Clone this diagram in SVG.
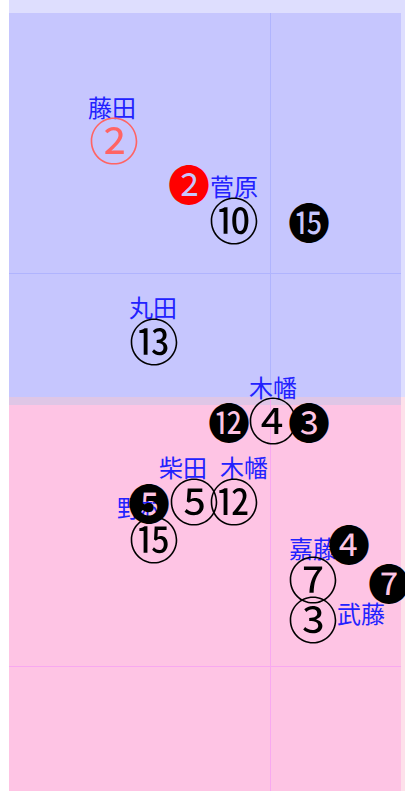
<svg xmlns="http://www.w3.org/2000/svg" width="405" height="791" viewBox="0 0 405 791">
<style>
.name{font-family:"Noto Sans CJK JP","Noto Sans CJK SC",sans-serif;font-size:24px;fill:#2222ff;text-anchor:middle}
.w{font-family:"Noto Sans CJK JP","Noto Sans CJK SC",serif;font-size:50px;fill:#000;text-anchor:middle;dominant-baseline:central}
.b{font-family:"Noto Sans CJK JP","Noto Sans CJK SC",serif;font-size:42px;fill:#000;text-anchor:middle;dominant-baseline:central}
</style>
<rect x="0" y="0" width="405" height="791" fill="#ffffff"/>
<rect x="9" y="0" width="396" height="13" fill="#dedefe"/>
<rect x="401" y="13" width="4" height="384" fill="#dedefe"/>
<rect x="401" y="397" width="4" height="394" fill="#fde0ea"/>
<rect x="9" y="13" width="392" height="384" fill="#c6c6fe"/>
<rect x="9" y="397" width="392" height="8" fill="#dfc6e6"/>
<rect x="9" y="405" width="392" height="386" fill="#fec4e4"/>
<g id="grid">
<line x1="270.5" y1="13" x2="270.5" y2="397" stroke="#b0b4fe" stroke-width="1"/>
<line x1="270.5" y1="397" x2="270.5" y2="791" stroke="#f8a8f0" stroke-width="1"/>
<line x1="9" y1="273.5" x2="401" y2="273.5" stroke="#b0b4fe" stroke-width="1"/>
<line x1="9" y1="666.5" x2="401" y2="666.5" stroke="#f8a8f0" stroke-width="1"/>
</g>
<g id="connectors"></g>
<g id="n-fujita"><text class="name" x="112" y="117">藤田</text><text class="w" x="114" y="138" style="fill:#ff6464">②</text></g>
<g id="n-b2"><text class="b" x="189" y="182" style="fill:#ff0000">❷</text></g>
<g id="n-sugawara"><text class="name" x="234" y="196">菅原</text><text class="w" x="234" y="218">⑩</text></g>
<g id="n-b15"><text class="b" x="309" y="220">⓯</text></g>
<g id="n-maruta"><text class="name" x="153" y="317">丸田</text><text class="w" x="154" y="339">⑬</text></g>
<g id="n-kowata1"><text class="name" x="273" y="397">木幡</text><text class="w" x="273" y="418">④</text></g>
<g id="n-b12"><text class="b" x="229" y="420">⓬</text></g>
<g id="n-b3"><text class="b" x="309" y="420">❸</text></g>
<g id="n-shibata"><text class="name" x="183" y="477">柴田</text><text class="w" x="194" y="499">⑤</text></g>
<g id="n-kowata2"><text class="name" x="244" y="477">木幡</text><text class="w" x="234" y="499">⑫</text></g>
<g id="n-nomura"><text class="name" x="141" y="517">野村</text><text class="w" x="154" y="537">⑮</text></g>
<g id="n-b5"><text class="b" x="149" y="501">❺</text></g>
<g id="n-kato"><text class="name" x="313" y="558">嘉藤</text><text class="w" x="313" y="577">⑦</text></g>
<g id="n-b4"><text class="b" x="349" y="542">❹</text></g>
<g id="n-b7"><text class="b" x="389" y="581">❼</text></g>
<g id="n-muto"><text class="name" x="361" y="623">武藤</text><text class="w" x="313" y="617">③</text></g>
</svg>
